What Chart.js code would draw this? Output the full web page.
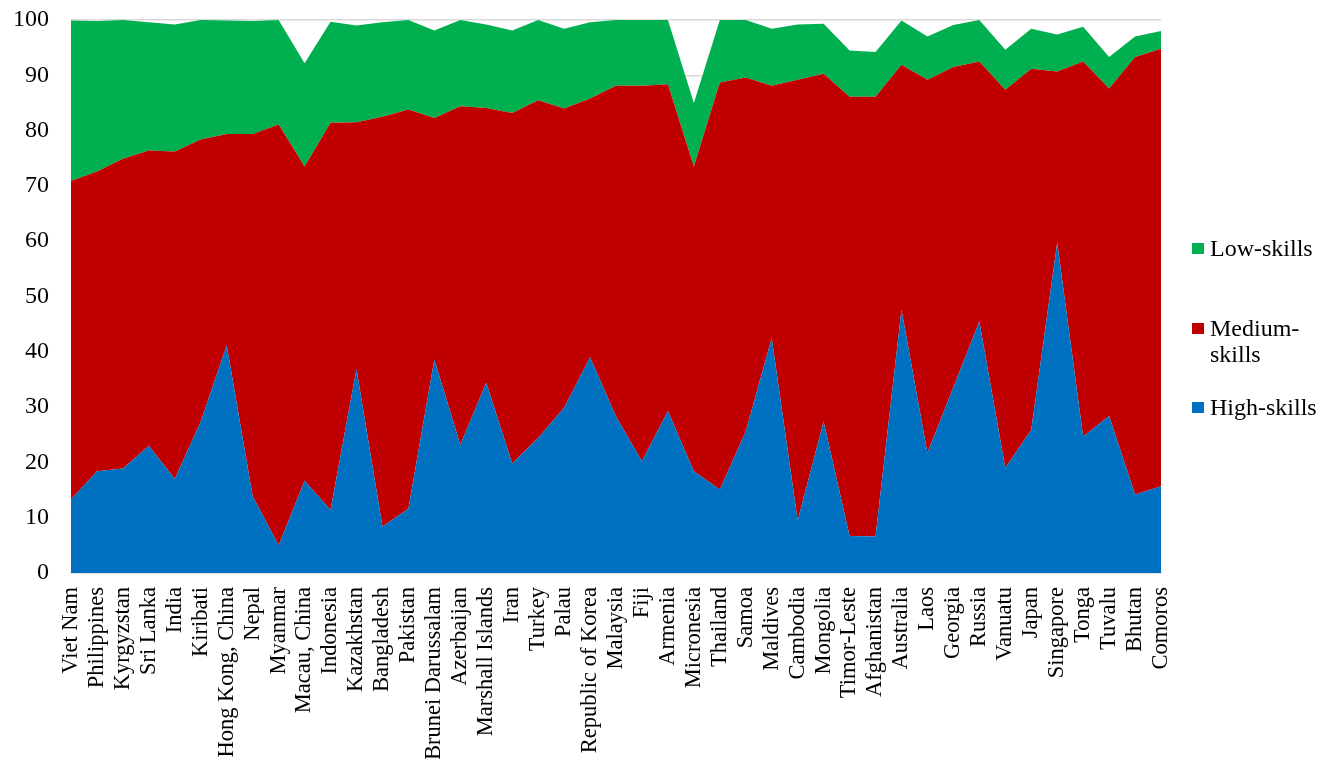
<!DOCTYPE html>
<html>
<head>
<meta charset="utf-8">
<script src="https://cdn.jsdelivr.net/npm/chart.js@4.4.1/dist/chart.umd.min.js"></script>
<style>
  html, body { margin: 0; padding: 0; background: #ffffff; }
  #wrap { position: relative; width: 1332px; height: 759px; }
  #legend { position: absolute; left: 1192px; top: 0; font-family: "Liberation Serif", "Times New Roman", serif; font-size: 24px; color: #000; }
  .item { position: absolute; left: 0; white-space: nowrap; line-height: 26px; }
  .sw { position: absolute; left: 0; width: 12px; height: 11px; }
  .tx { position: absolute; left: 18px; }
</style>
</head>
<body>
<div id="wrap">
  <canvas id="c"></canvas>
  <div id="legend"></div>
</div>
<script>
const categories = ["Viet Nam","Philippines","Kyrgyzstan","Sri Lanka","India","Kiribati","Hong Kong, China","Nepal","Myanmar","Macau, China","Indonesia","Kazakhstan","Bangladesh","Pakistan","Brunei Darussalam","Azerbaijan","Marshall Islands","Iran","Turkey","Palau","Republic of Korea","Malaysia","Fiji","Armenia","Micronesia","Thailand","Samoa","Maldives","Cambodia","Mongolia","Timor-Leste","Afghanistan","Australia","Laos","Georgia","Russia","Vanuatu","Japan","Singapore","Tonga","Tuvalu","Bhutan","Comoros"];

const highSkills = [13.3,18.4,18.9,23.0,17.0,27.4,41.2,13.9,5.0,16.7,11.4,36.9,8.4,11.6,38.6,23.2,34.4,19.8,24.4,29.9,39.0,28.3,20.2,29.3,18.4,15.1,25.6,42.5,9.5,27.4,6.7,6.6,47.6,21.7,33.6,45.5,19.0,25.9,59.7,24.7,28.4,14.2,15.7];

const mediumSkills = [57.6,54.2,56.0,53.4,59.2,51.0,38.2,65.5,76.1,56.8,70.0,44.6,74.1,72.2,43.7,61.2,49.7,63.4,61.1,54.1,46.8,59.8,67.9,59.1,55.1,73.6,64.0,45.6,79.7,62.9,79.4,79.5,44.3,67.5,57.9,47.0,68.4,65.3,31.0,67.8,59.2,79.1,79.1];

const lowSkills = [29.0,27.2,25.1,23.2,23.0,21.6,20.5,20.4,18.9,18.7,18.3,17.5,17.1,16.2,15.8,15.6,15.1,14.9,14.5,14.4,13.8,11.9,11.9,11.6,11.5,11.3,10.4,10.3,10.0,9.0,8.4,8.1,8.0,7.8,7.6,7.5,7.2,7.2,6.7,6.3,5.7,3.7,3.2];

const yTicks = [0,10,20,30,40,50,60,70,80,90,100];

const seriesNames = ["Low-skills", "Medium-skills", "High-skills"];
const colors = { low: "#00B050", medium: "#C00000", high: "#0070C0" };

const serif = "'Liberation Serif', 'Times New Roman', serif";

const chart = new Chart(document.getElementById("c"), {
  type: "line",
  data: {
    labels: categories,
    datasets: [
      { label: seriesNames[2], data: highSkills, backgroundColor: colors.high, borderColor: colors.high, fill: "origin", borderWidth: 0, pointRadius: 0, tension: 0 },
      { label: seriesNames[1], data: mediumSkills, backgroundColor: colors.medium, borderColor: colors.medium, fill: "-1", borderWidth: 0, pointRadius: 0, tension: 0 },
      { label: seriesNames[0], data: lowSkills, backgroundColor: colors.low, borderColor: colors.low, fill: "-1", borderWidth: 0, pointRadius: 0, tension: 0 }
    ]
  },
  options: {
    responsive: true,
    maintainAspectRatio: false,
    animation: false,
    layout: { padding: { top: 20, right: 171, left: 0, bottom: 0 } },
    plugins: { legend: { display: false }, tooltip: { enabled: false } },
    scales: {
      x: {
        offset: false,
        grid: { display: false },
        border: { display: true, color: "#d9d9d9", width: 1.5 },
        ticks: {
          autoSkip: false, maxRotation: 90, minRotation: 90, padding: 6,
          color: "#000", font: { family: serif, size: 22.5 }
        },
        afterFit: (s) => { s.height = 186; s.paddingTop = 0; }
      },
      y: {
        stacked: true,
        min: 0, max: 100,
        afterBuildTicks: (s) => { s.ticks = yTicks.map(v => ({ value: v })); },
        grid: { color: "#d9d9d9", drawTicks: false, lineWidth: 1.5 },
        border: { display: false },
        ticks: { padding: 22, color: "#000", font: { family: serif, size: 24 } },
        afterFit: (s) => { s.width = 71; s.paddingTop = 0; s.paddingBottom = 0; }
      }
    }
  }
});

// Legend (HTML text)
const legendItems = [
  { name: "Low-skills", lines: ["Low-skills"], color: colors.low, top: 235 },
  { name: "Medium-skills", lines: ["Medium-", "skills"], color: colors.medium, top: 315 },
  { name: "High-skills", lines: ["High-skills"], color: colors.high, top: 394 }
];
const lg = document.getElementById("legend");
legendItems.forEach(it => {
  const d = document.createElement("div");
  d.className = "item";
  d.style.top = it.top + "px";
  const sw = document.createElement("div");
  sw.className = "sw";
  sw.style.background = it.color;
  sw.style.top = "8px";
  const tx = document.createElement("div");
  tx.className = "tx";
  tx.innerHTML = it.lines.join("<br>");
  d.appendChild(sw); d.appendChild(tx);
  lg.appendChild(d);
});
</script>
</body>
</html>
